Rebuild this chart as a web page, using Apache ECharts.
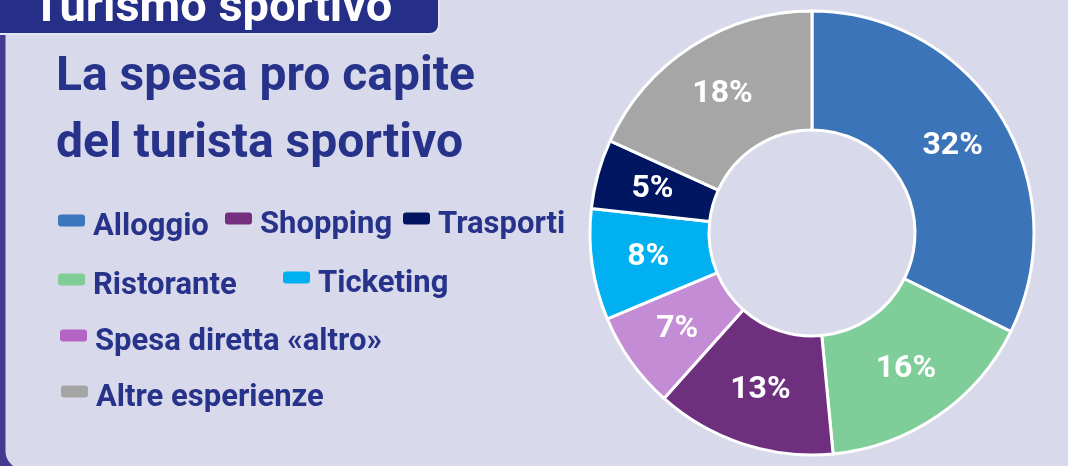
<!DOCTYPE html>
<html>
<head>
<meta charset="utf-8">
<script src="https://cdn.jsdelivr.net/npm/echarts@6/dist/echarts.min.js"></script>
<style>
  html, body { margin: 0; padding: 0; }
  #chart { width: 1068px; height: 466px; }
</style>
</head>
<body>
<div id="chart"></div>
<script>
// slices go clockwise from 12 o'clock
const categories = ["Alloggio", "Ristorante", "Shopping", "Spesa diretta «altro»", "Ticketing", "Trasporti", "Altre esperienze"];
const shares = [32, 16, 13, 7, 8, 5, 18];
const sliceColors = ["#3b74b8", "#7fcd99", "#6e2f7e", "#c48cd4", "#00b0f0", "#001660", "#a6a6a6"];
const legendColors = ["#3a77bd", "#7fce98", "#74307f", "#b462c4", "#00b0f0", "#001660", "#a5a5a5"];

// where each legend entry sits (hand placed, like in the slide)
const legendPos = {
  "Alloggio": [58, 212],
  "Shopping": [225, 210],
  "Trasporti": [403, 210],
  "Ristorante": [58, 271],
  "Ticketing": [283, 269],
  "Spesa diretta «altro»": [60, 327],
  "Altre esperienze": [61, 383],
};

const navy = "#27338a";
const font = "Roboto";

// rounded bar sitting high in a 30x26 box, so the label ends up lower and a bit further right
const legendIcon =
  "path://M0,3Q0,0 3,0L24,0Q27,0 27,3L27,9Q27,12 24,12L3,12Q0,12 0,9Z M30,26L30,26";

const chart = echarts.init(document.getElementById("chart"));

const legends = categories.map((name, i) => ({
  data: [{ name: name, itemStyle: { color: legendColors[i], borderWidth: 0 } }],
  left: legendPos[name][0],
  top: legendPos[name][1],
  padding: 0,
  icon: legendIcon,
  itemWidth: 30,
  itemHeight: 26,
  selectedMode: false,
  textStyle: {
    color: navy,
    fontFamily: font,
    fontWeight: "bold",
    fontSize: 31,
  },
}));

const option = {
  backgroundColor: "#d6d8e9",
  animation: false,
  title: {
    text: "La spesa pro capite\ndel turista sportivo",
    left: 56,
    top: 44,
    padding: 0,
    textStyle: {
      color: navy,
      fontFamily: font,
      fontWeight: "bold",
      fontSize: 48,
      lineHeight: 67,
    },
  },
  graphic: [
    {
      // card, only its purple left edge and bottom corner show
      type: "rect",
      z: -1,
      shape: { x: 0, y: -200, width: 2000, height: 675, r: [0, 0, 0, 24] },
      style: { fill: "#d8d9ea", stroke: "#443a90", lineWidth: 11 },
    },
    {
      type: "rect",
      z: 0,
      shape: { x: -10, y: -10, width: 449, height: 44, r: 9 },
      style: { fill: "#252f87", stroke: "#e6e6f3", lineWidth: 2 },
    },
    {
      type: "text",
      z: 1,
      left: 32,
      top: -14,
      style: {
        text: "Turismo sportivo",
        fill: "#ffffff",
        font: "bold 47px Roboto",
      },
    },
  ],
  legend: legends,
  series: [
    {
      type: "pie",
      center: [812, 233],
      radius: [103, 222],
      startAngle: 90,
      clockwise: true,
      avoidLabelOverlap: false,
      itemStyle: { borderColor: "#ffffff", borderWidth: 3 },
      label: {
        show: true,
        position: "inside",
        formatter: "{c}%",
        color: "#ffffff",
        fontFamily: font,
        fontWeight: "bold",
        fontSize: 32,
      },
      labelLine: { show: false },
      emphasis: { disabled: true },
      data: categories.map((name, i) => ({
        name: name,
        value: shares[i],
        itemStyle: { color: sliceColors[i] },
      })),
    },
  ],
};

chart.setOption(option);
</script>
</body>
</html>
